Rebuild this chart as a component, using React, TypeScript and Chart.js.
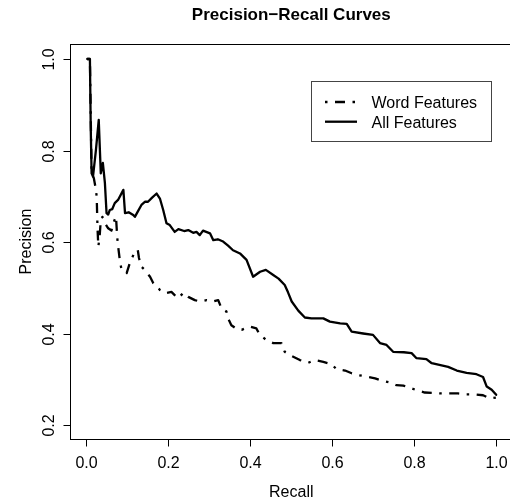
import React, { useEffect, useRef } from "react";
import { Chart, registerables } from "chart.js";

Chart.register(...registerables);

const TITLE = "Precision\u2212Recall Curves";
const X_LABEL = "Recall";
const Y_LABEL = "Precision";
const SERIES_NAMES = ["Word Features", "All Features"];

const xTicks = [0, 0.2, 0.4, 0.6, 0.8, 1.0];
const yTicks = [0.2, 0.4, 0.6, 0.8, 1.0];

const allRecall = [
  0.004, 0.0105, 0.0125, 0.0146, 0.018, 0.025, 0.032, 0.037, 0.042, 0.047,
  0.051, 0.055, 0.059, 0.065, 0.071, 0.079, 0.092, 0.096, 0.105, 0.116,
  0.12, 0.128, 0.136, 0.145, 0.152, 0.162, 0.173, 0.181, 0.189, 0.197,
  0.205, 0.217, 0.226, 0.24, 0.25, 0.262, 0.27, 0.278, 0.286, 0.303,
  0.311, 0.322, 0.335, 0.347, 0.359, 0.376, 0.392, 0.408, 0.425, 0.439,
  0.457, 0.47, 0.485, 0.493, 0.502, 0.518, 0.534, 0.55, 0.579, 0.595,
  0.62, 0.636, 0.648, 0.676, 0.7, 0.717, 0.733, 0.749, 0.775, 0.794,
  0.806, 0.83, 0.843, 0.883, 0.904, 0.928, 0.952, 0.968, 0.977, 0.989, 1.0,
];
const allPrecision = [
  1.0, 1.0, 0.85, 0.75, 0.743, 0.8, 0.867, 0.75, 0.773, 0.729,
  0.663, 0.66, 0.67, 0.672, 0.685, 0.692, 0.714, 0.663, 0.665, 0.659,
  0.655, 0.668, 0.681, 0.688, 0.688, 0.697, 0.706, 0.695, 0.67, 0.641,
  0.637, 0.622, 0.628, 0.624, 0.626, 0.62, 0.622, 0.615, 0.625, 0.619,
  0.604, 0.606, 0.601, 0.592, 0.582, 0.575, 0.561, 0.524, 0.535, 0.539,
  0.528, 0.52, 0.506, 0.49, 0.47, 0.45, 0.435, 0.433, 0.433, 0.426,
  0.422, 0.421, 0.404, 0.4, 0.397, 0.379, 0.375, 0.36, 0.359, 0.357,
  0.346, 0.344, 0.335, 0.327, 0.319, 0.314, 0.311, 0.305, 0.284, 0.277, 0.266,
];

const wordRecall = [
  0.004, 0.0105, 0.0146, 0.02, 0.024, 0.027, 0.029, 0.031, 0.034, 0.037,
  0.041, 0.048, 0.055, 0.063, 0.067, 0.074, 0.077, 0.08, 0.084, 0.088,
  0.1, 0.108, 0.12, 0.127, 0.13, 0.136, 0.144, 0.157, 0.165, 0.173,
  0.181, 0.193, 0.209, 0.217, 0.226, 0.238, 0.25, 0.266, 0.278, 0.295,
  0.311, 0.323, 0.331, 0.343, 0.347, 0.355, 0.368, 0.38, 0.4, 0.416,
  0.424, 0.44, 0.457, 0.477, 0.485, 0.497, 0.522, 0.542, 0.558, 0.579,
  0.599, 0.611, 0.632, 0.648, 0.664, 0.684, 0.705, 0.721, 0.741, 0.757,
  0.774, 0.794, 0.81, 0.826, 0.847, 0.867, 0.883, 0.907, 0.928, 0.948,
  0.968, 0.985, 1.0,
];
const wordPrecision = [
  1.0, 1.0, 0.75, 0.74, 0.72, 0.7, 0.63, 0.59, 0.61, 0.648,
  0.655, 0.64, 0.63, 0.625, 0.64, 0.656, 0.61, 0.585, 0.555, 0.538,
  0.532, 0.555, 0.579, 0.583, 0.565, 0.546, 0.539, 0.524, 0.51, 0.504,
  0.495, 0.488, 0.491, 0.484, 0.477, 0.489, 0.48, 0.473, 0.47, 0.473,
  0.47, 0.473, 0.455, 0.448, 0.433, 0.418, 0.41, 0.408, 0.415, 0.411,
  0.397, 0.386, 0.379, 0.379, 0.36, 0.353, 0.342, 0.336, 0.342, 0.338,
  0.333, 0.322, 0.319, 0.313, 0.309, 0.306, 0.302, 0.297, 0.293, 0.287,
  0.286, 0.28, 0.275, 0.271, 0.27, 0.269, 0.269, 0.269, 0.267, 0.267,
  0.265, 0.258, 0.26,
];

const FONT = '"Liberation Sans", Arial, Helvetica, sans-serif';
const LW = 2.3;
const DOTDASH = [2.5, 7.5, 10, 7.5];
const CANVAS_W = 560;
const CANVAS_H = 501;

const rPlot = {
  id: "rPlot",
  afterDraw(chart: any) {
    const { ctx, chartArea, scales } = chart;
    const { left, right, top, bottom } = chartArea;
    const xs = scales.x;
    const ys = scales.y;
    ctx.save();
    ctx.strokeStyle = "#000";
    ctx.fillStyle = "#000";
    ctx.lineWidth = 1;
    ctx.setLineDash([]);
    const L = Math.round(left) + 0.5;
    const T = Math.round(top) + 0.5;
    const R = Math.round(right) + 0.5;
    const B = Math.round(bottom) + 0.5;
    ctx.strokeRect(L, T, R - L, B - T);
    ctx.font = `16px ${FONT}`;
    ctx.textAlign = "center";
    ctx.textBaseline = "alphabetic";
    xTicks.forEach((v) => {
      const px = Math.round(xs.getPixelForValue(v)) + 0.5;
      ctx.beginPath();
      ctx.moveTo(px, B);
      ctx.lineTo(px, B + 7);
      ctx.stroke();
      ctx.fillText(v.toFixed(1), px, 468);
    });
    yTicks.forEach((v) => {
      const py = Math.round(ys.getPixelForValue(v)) + 0.5;
      ctx.beginPath();
      ctx.moveTo(L - 7, py);
      ctx.lineTo(L, py);
      ctx.stroke();
      ctx.save();
      ctx.translate(53.5, py);
      ctx.rotate(-Math.PI / 2);
      ctx.fillText(v.toFixed(1), 0, 0);
      ctx.restore();
    });
    const cx = (left + right) / 2;
    const cy = (top + bottom) / 2;
    ctx.fillText(X_LABEL, cx, 497);
    ctx.save();
    ctx.translate(31, cy);
    ctx.rotate(-Math.PI / 2);
    ctx.fillText(Y_LABEL, 0, 0);
    ctx.restore();
    ctx.font = `bold 17px ${FONT}`;
    ctx.fillText(TITLE, cx, 19.5);
    ctx.strokeStyle = "#444";
    ctx.strokeRect(311.5, 81.5, 180, 60);
    ctx.strokeStyle = "#000";
    ctx.font = `16px ${FONT}`;
    ctx.textAlign = "left";
    ctx.lineWidth = LW;
    ctx.lineCap = "butt";
    const ly = [102, 121.7];
    const dashes = [DOTDASH, []];
    SERIES_NAMES.forEach((name, i) => {
      ctx.setLineDash(dashes[i]);
      ctx.beginPath();
      ctx.moveTo(325, ly[i]);
      ctx.lineTo(357, ly[i]);
      ctx.stroke();
      ctx.fillText(name, 371.5, ly[i] + 6);
    });
    ctx.restore();
  },
};

export default function App() {
  const ref = useRef<HTMLCanvasElement>(null);
  useEffect(() => {
    document.body.style.overflow = "hidden";
    const wordData = wordRecall.map((x, i) => ({ x, y: wordPrecision[i] }));
    const allData = allRecall.map((x, i) => ({ x, y: allPrecision[i] }));
    const chart = new Chart(ref.current as HTMLCanvasElement, {
      type: "line",
      data: {
        datasets: [
          {
            label: SERIES_NAMES[0],
            data: wordData,
            borderColor: "#000",
            borderWidth: LW,
            borderDash: DOTDASH,
            borderCapStyle: "butt",
            borderJoinStyle: "round",
            pointRadius: 0,
            tension: 0,
            fill: false,
          },
          {
            label: SERIES_NAMES[1],
            data: allData,
            borderColor: "#000",
            borderWidth: LW,
            borderCapStyle: "round",
            borderJoinStyle: "round",
            pointRadius: 0,
            tension: 0,
            fill: false,
          },
        ],
      },
      options: {
        responsive: false,
        animation: false,
        layout: { padding: { left: 70, right: CANVAS_W - 512.6, top: 44, bottom: 62 } },
        plugins: {
          legend: { display: false },
          tooltip: { enabled: false },
          title: { display: false },
        },
        scales: {
          x: { type: "linear", min: -0.038, max: 1.04, display: false },
          y: { type: "linear", min: 0.1694, max: 1.0328, display: false },
        },
      },
      plugins: [rPlot],
    });
    return () => chart.destroy();
  }, []);
  return (
    <div style={{ position: "fixed", left: 0, top: 0, width: CANVAS_W, height: CANVAS_H, background: "#fff" }}>
      <canvas ref={ref} width={CANVAS_W} height={CANVAS_H} style={{ width: CANVAS_W, height: CANVAS_H, display: "block" }} />
    </div>
  );
}
